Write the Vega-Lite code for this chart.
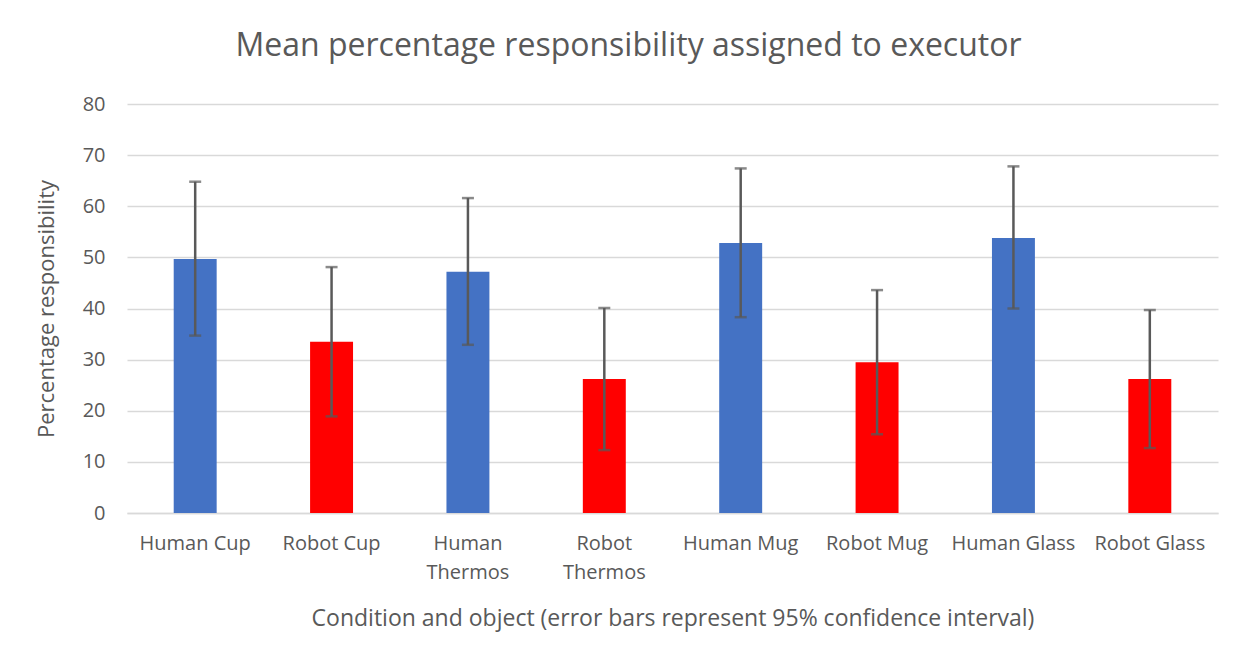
{
  "$schema": "https://vega.github.io/schema/vega-lite/v6.json",
  "width": 1091,
  "height": 409,
  "autosize": "none",
  "padding": {"left": 127, "top": 104, "right": 26, "bottom": 145},
  "background": "white",
  "title": {
    "text": "Mean percentage responsibility assigned to executor",
    "font": "Open Sans",
    "fontSize": 32,
    "fontWeight": "normal",
    "color": "#595959",
    "anchor": "middle",
    "dx": -44,
    "offset": 31
  },
  "data": {
    "values": [
      {"cond": "Human Cup", "group": "Human", "mean": 49.7, "lo": 34.7, "hi": 64.8},
      {"cond": "Robot Cup", "group": "Robot", "mean": 33.5, "lo": 18.9, "hi": 48.1},
      {"cond": "Human Thermos", "group": "Human", "mean": 47.2, "lo": 32.9, "hi": 61.6},
      {"cond": "Robot Thermos", "group": "Robot", "mean": 26.2, "lo": 12.3, "hi": 40.1},
      {"cond": "Human Mug", "group": "Human", "mean": 52.8, "lo": 38.3, "hi": 67.4},
      {"cond": "Robot Mug", "group": "Robot", "mean": 29.5, "lo": 15.4, "hi": 43.6},
      {"cond": "Human Glass", "group": "Human", "mean": 53.8, "lo": 40.0, "hi": 67.8},
      {"cond": "Robot Glass", "group": "Robot", "mean": 26.2, "lo": 12.7, "hi": 39.7}
    ]
  },
  "encoding": {
    "x": {
      "field": "cond",
      "type": "nominal",
      "sort": null,
      "scale": {"paddingInner": 0.685, "paddingOuter": 0.3425},
      "axis": {
        "title": "Condition and object (error bars represent 95% confidence interval)",
        "titleFont": "Open Sans",
        "titleFontSize": 23,
        "titleFontWeight": "normal",
        "titleColor": "#595959",
        "titlePadding": 25,
        "labelFont": "Open Sans",
        "labelFontSize": 20,
        "labelColor": "#595959",
        "labelAngle": 0,
        "labelPadding": 20,
        "labelLineHeight": 29,
        "labelExpr": "indexof(datum.value, 'Thermos') >= 0 ? split(datum.value, ' ') : datum.value",
        "ticks": false,
        "domainColor": "#d9d9d9",
        "domainWidth": 1.5,
        "grid": false
      }
    }
  },
  "layer": [
    {
      "mark": {"type": "bar"},
      "encoding": {
        "y": {
          "field": "mean",
          "type": "quantitative",
          "scale": {"domain": [0, 80]},
          "axis": {
            "title": "Percentage responsibility",
            "titleFont": "Open Sans",
            "titleFontSize": 22,
            "titleFontWeight": "normal",
            "titleColor": "#595959",
            "titlePadding": 24,
            "labelFont": "Open Sans",
            "labelFontSize": 20,
            "labelColor": "#595959",
            "labelPadding": 22,
            "tickCount": 8,
            "ticks": false,
            "domain": false,
            "gridColor": "#d9d9d9",
            "gridWidth": 1.5
          }
        },
        "color": {
          "field": "group",
          "type": "nominal",
          "scale": {"domain": ["Human", "Robot"], "range": ["#4472c4", "#ff0000"]},
          "legend": null
        }
      }
    },
    {
      "mark": {"type": "rule", "color": "#595959", "strokeWidth": 2.5},
      "encoding": {
        "y": {"field": "lo", "type": "quantitative"},
        "y2": {"field": "hi"}
      }
    },
    {
      "mark": {"type": "tick", "color": "#595959", "thickness": 2.5, "size": 12, "orient": "horizontal"},
      "encoding": {
        "y": {"field": "lo", "type": "quantitative"}
      }
    },
    {
      "mark": {"type": "tick", "color": "#595959", "thickness": 2.5, "size": 12, "orient": "horizontal"},
      "encoding": {
        "y": {"field": "hi", "type": "quantitative"}
      }
    }
  ],
  "config": {"view": {"stroke": null}}
}
